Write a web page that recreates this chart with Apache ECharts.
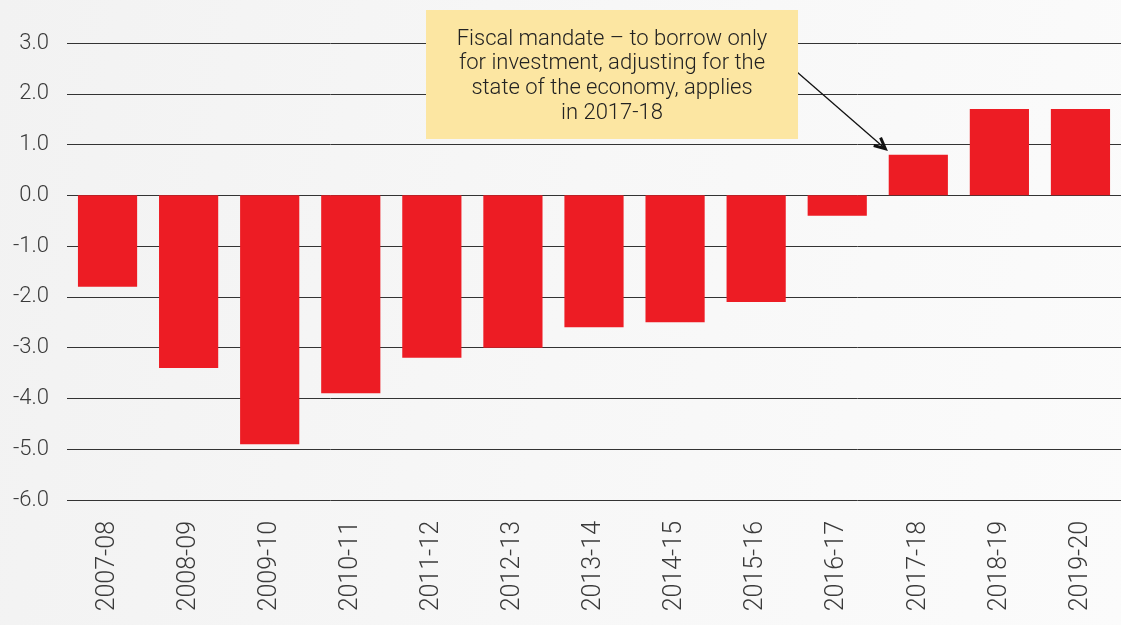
<!DOCTYPE html>
<html>
<head>
<meta charset="utf-8">
<script src="https://cdn.jsdelivr.net/npm/echarts@6/dist/echarts.min.js"></script>
<style>
  html, body { margin: 0; padding: 0; }
  body { background: linear-gradient(100deg, #f2f2f2 0%, #f7f7f7 50%, #fbfbfb 100%); }
  #chart { width: 1121px; height: 625px; }
</style>
</head>
<body>
<div id="chart"></div>
<script>
// Public sector net borrowing balance, % of GDP
const years = ['2007-08','2008-09','2009-10','2010-11','2011-12','2012-13','2013-14',
               '2014-15','2015-16','2016-17','2017-18','2018-19','2019-20'];
const balance = [-1.8, -3.4, -4.9, -3.9, -3.2, -3.0, -2.6, -2.5, -2.1, -0.4, 0.8, 1.7, 1.7];
const yTicks = { min: -6, max: 3, step: 1 };
const noteLines = [
  'Fiscal mandate – to borrow only',
  'for investment, adjusting for the',
  'state of the economy, applies',
  'in 2017-18'
];
const noteTarget = '2017-18';

const FONT = 'Roboto, "Noto Sans", sans-serif';
const chart = echarts.init(document.getElementById('chart'));

const option = {
  backgroundColor: 'transparent',
  animation: false,
  grid: { left: 67, right: 0, top: 43, bottom: 125 },
  xAxis: {
    type: 'category',
    data: years,
    axisLine: { show: false },
    axisTick: { show: false },
    axisLabel: {
      rotate: 90, margin: 21, color: '#3a3a3a', fontSize: 25,
      fontFamily: FONT, fontWeight: 300
    }
  },
  yAxis: {
    type: 'value',
    min: yTicks.min, max: yTicks.max, interval: yTicks.step,
    axisLine: { show: false },
    axisTick: { show: false },
    axisLabel: {
      margin: 18, color: '#3a3a3a', fontSize: 22, fontFamily: FONT, fontWeight: 300,
      formatter: v => v.toFixed(1)
    },
    splitLine: { lineStyle: { color: '#333', width: 1 } }
  },
  series: [{
    type: 'bar',
    data: balance,
    barWidth: '73%',
    itemStyle: { color: '#ED1C24' }
  }]
};
chart.setOption(option);

// Annotation box with arrow pointing at the first year of the mandate
const tip = chart.convertToPixel({ xAxisIndex: 0, yAxisIndex: 0 },
  [noteTarget, balance[years.indexOf(noteTarget)]]);
const boxX = 426, boxY = 10, boxW = 372, boxH = 129;
const endX = tip[0] - 33, endY = tip[1] - 6;
const startX = boxX + boxW - 1, startY = 72;
const ang = Math.atan2(endY - startY, endX - startX);
const head = 12, spread = 0.45;
chart.setOption({
  graphic: [
    {
      type: 'line', z: 10,
      shape: { x1: startX, y1: startY, x2: endX, y2: endY },
      style: { stroke: '#111', lineWidth: 1.3 }
    },
    {
      type: 'polyline', z: 10,
      shape: { points: [
        [endX - head * Math.cos(ang - spread), endY - head * Math.sin(ang - spread)],
        [endX, endY],
        [endX - head * Math.cos(ang + spread), endY - head * Math.sin(ang + spread)]
      ] },
      style: { stroke: '#111', lineWidth: 3, fill: null, lineJoin: 'miter' }
    },
    {
      type: 'rect', z: 11,
      shape: { x: boxX, y: boxY, width: boxW, height: boxH },
      style: { fill: '#FCE6A2' }
    },
    {
      type: 'text', z: 12,
      x: boxX + boxW / 2, y: boxY + 17,
      style: {
        text: noteLines.join('\n'),
        align: 'center', verticalAlign: 'top',
        font: '300 22px ' + FONT, lineHeight: 24.6, fill: '#222'
      }
    }
  ]
});
</script>
</body>
</html>
